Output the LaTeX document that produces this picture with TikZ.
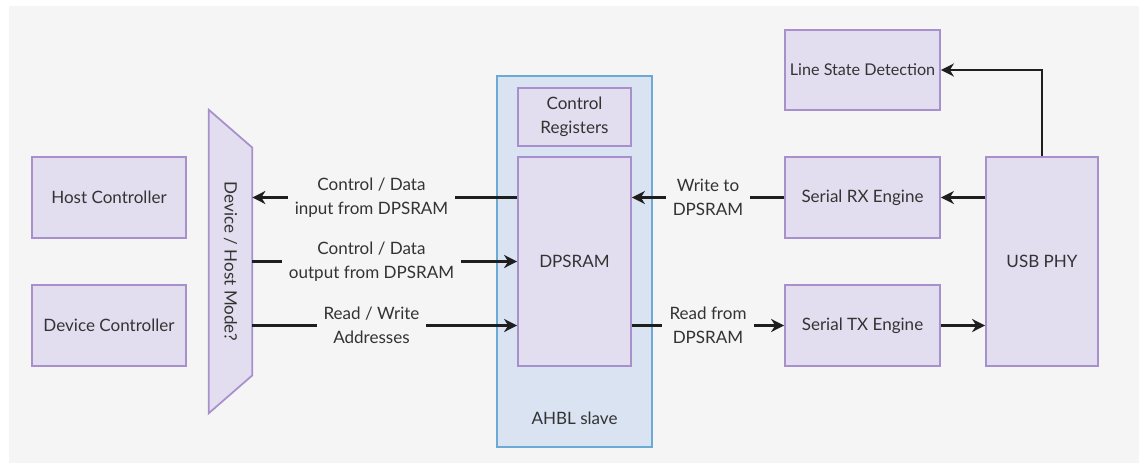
\documentclass[tikz,border=0pt]{standalone}
\usepackage{fontspec}
\setmainfont{Lato}
\usetikzlibrary{arrows.meta, positioning, calc}
\definecolor{pagebg}{HTML}{F5F5F5}
\definecolor{boxfill}{HTML}{E3DEEF}
\definecolor{boxdraw}{HTML}{A890CC}
\definecolor{slavefill}{HTML}{DAE3F1}
\definecolor{slavedraw}{HTML}{6AAAD4}
\definecolor{inkdark}{HTML}{1E1E1E}
\definecolor{textgrey}{HTML}{333333}
\tikzstyle{block} = [rectangle, draw=boxdraw, fill=boxfill, line width=1pt, align=center, inner sep=2pt, text=textgrey, font=\fontsize{9.7}{13.5}\selectfont]
\tikzstyle{slave} = [rectangle, draw=slavedraw, fill=slavefill, line width=1pt]
\tikzstyle{muxshape} = [draw=boxdraw, fill=boxfill, line width=1pt]
\tikzstyle{txt} = [align=center, text=textgrey, font=\fontsize{9.7}{13.5}\selectfont]
\tikzstyle{lbl} = [txt, fill=pagebg, inner sep=4pt]
\tikzstyle{line} = [draw=inkdark, line width=1.6pt, -{Stealth[length=2.6mm, width=2.6mm, inset=0.8mm]}]

\begin{document}
\begin{tikzpicture}[x=0.02cm, y=-0.02cm]
    \useasboundingbox (0,0) rectangle (1139,463);
    \fill [pagebg] (9,6) rectangle (1139,463);

    % Nodes
    \node (hostctl) [block, minimum width=3.08cm, minimum height=1.62cm] at (109,197.5) {Host Controller};
    \node (devctl) [block, minimum width=3.08cm, minimum height=1.62cm] at (109,325.5) {Device Controller};
    \node (mux) [inner sep=0pt, minimum width=0.86cm, minimum height=6.06cm] at (230.5,261.5) {};
    \draw [muxshape] (mux.north west) -- ([yshift=-0.76cm]mux.north east) -- ([yshift=0.76cm]mux.south east) -- (mux.south west) -- cycle;
    \node (muxlbl) [txt, rotate=-90] at (mux) {Device / Host Mode?};
    \node (ahbl) [slave, minimum width=3.1cm, minimum height=7.42cm] at (574.5,261.5) {};
    \node (ahbllbl) [txt] at (574.5,418) {AHBL slave};
    \node (ctrlreg) [block, minimum width=2.26cm, minimum height=1.16cm] at (574.5,117) {Control\\Registers};
    \node (dpsram) [block, minimum width=2.26cm, minimum height=4.18cm] at (574.5,261.5) {DPSRAM};
    \node (linestate) [block, inner sep=0pt, minimum width=3.1cm, minimum height=1.6cm, font=\fontsize{9.2}{13}\selectfont] at (862.5,70) {Line State Detection};
    \node (rx) [block, minimum width=3.1cm, minimum height=1.62cm] at (862.5,197.5) {Serial RX Engine};
    \node (tx) [block, minimum width=3.1cm, minimum height=1.62cm] at (862.5,325.5) {Serial TX Engine};
    \node (phy) [block, minimum width=2.24cm, minimum height=4.18cm] at (1042,261.5) {USB PHY};

    % Paths
    \draw [line] (dpsram.west |- hostctl) -- node[lbl, pos=0.55] {Control / Data\\input from DPSRAM} (mux.east |- hostctl);
    \draw [line] (mux.east |- dpsram) -- node[lbl, pos=0.45] {Control / Data\\output from DPSRAM} (dpsram.west);
    \draw [line] (mux.east |- devctl) -- node[lbl, pos=0.45] {Read / Write\\Addresses} (dpsram.west |- devctl);
    \draw [line] (rx) -- node[lbl] {Write to\\DPSRAM} (dpsram.east |- rx);
    \draw [line] (dpsram.east |- tx) -- node[lbl] {Read from\\DPSRAM} (tx);
    \draw [line] (phy.west |- rx) -- (rx);
    \draw [line] (tx) -- (phy.west |- tx);
    \draw [line] (phy.north) |- (linestate);
\end{tikzpicture}
\end{document}
